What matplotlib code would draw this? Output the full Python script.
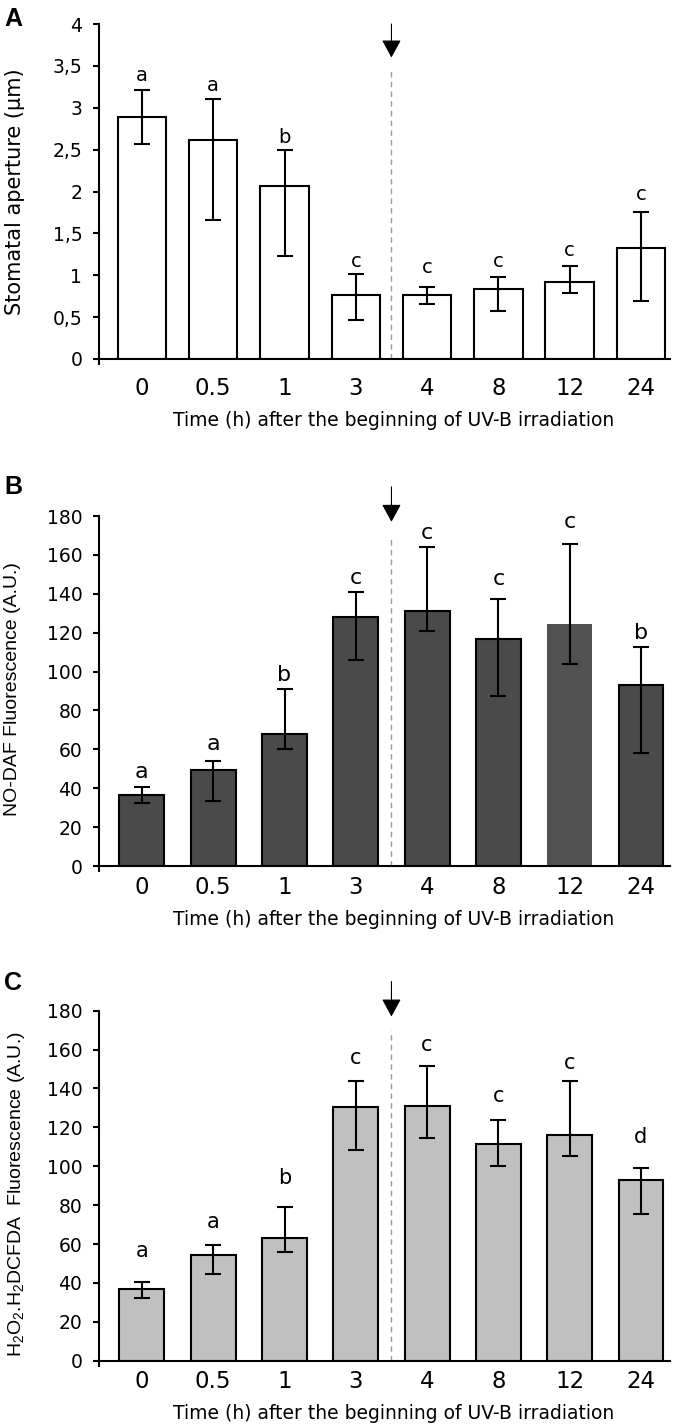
import matplotlib
matplotlib.use("Agg")
import matplotlib.pyplot as plt
import numpy as np

plt.rcParams['font.family'] = ['DejaVu Sans']
plt.rcParams['mathtext.default'] = 'regular'

# ---------------- data ----------------
times = ["0", "0.5", "1", "3", "4", "8", "12", "24"]

# Panel A: stomatal aperture (um)
vals_a = [2.89, 2.62, 2.07, 0.76, 0.76, 0.84, 0.92, 1.32]
hi_a = [3.21, 3.11, 2.49, 1.01, 0.86, 0.98, 1.11, 1.76]
lo_a = [2.57, 1.66, 1.23, 0.47, 0.66, 0.57, 0.79, 0.69]
letters_a = ["a", "a", "b", "c", "c", "c", "c", "c"]
lety_a = [3.39, 3.27, 2.65, 1.17, 1.09, 1.16, 1.29, 1.97]
yticks_a = [0, 0.5, 1, 1.5, 2, 2.5, 3, 3.5, 4]
yticklabels_a = ["0", "0,5", "1", "1,5", "2", "2,5", "3", "3,5", "4"]

# Panel B: NO-DAF fluorescence
vals_b = [36.5, 49.4, 67.9, 127.9, 131.0, 116.8, 124.5, 92.9]
hi_b = [40.4, 54.0, 90.9, 140.8, 164.3, 137.5, 165.5, 112.7]
lo_b = [32.2, 33.6, 60.2, 106.0, 120.9, 87.3, 104.1, 58.3]
letters_b = ["a", "a", "b", "c", "c", "c", "c", "b"]
lety_b = [48.5, 62.6, 98.3, 148.0, 171.1, 147.5, 177.1, 120.0]

# Panel C: H2O2 H2DCFDA fluorescence
vals_c = [36.7, 54.2, 63.0, 130.5, 131.2, 111.5, 116.3, 92.8]
hi_c = [40.6, 59.7, 79.2, 143.9, 151.7, 123.8, 143.9, 99.0]
lo_c = [32.4, 44.8, 55.9, 108.4, 114.4, 100.2, 105.3, 75.5]
letters_c = ["a", "a", "b", "c", "c", "c", "c", "d"]
lety_c = [56.4, 71.2, 93.8, 155.5, 162.4, 136.3, 153.0, 114.9]
yticks_f = [0, 20, 40, 60, 80, 100, 120, 140, 160, 180]

xlabel = "Time (h) after the beginning of UV-B irradiation"

# ---------------- figure ----------------
W, H = 677, 1426
fig = plt.figure(figsize=(W / 100, H / 100), dpi=100)

def frac_y(py):
    return 1 - py / H

left = 99 / W
width = 571 / W
ax_a = fig.add_axes([left, frac_y(359), width, 335 / H])
ax_b = fig.add_axes([left, frac_y(866), width, 350 / H])
ax_c = fig.add_axes([left, frac_y(1360.7), width, 350 / H])

x = np.arange(len(times))
XL = (-0.602, 7.407)


def panel(ax, vals, hi, lo, letters, lety, ymax, yticks, yticklabels,
          face, edge_list, barw, letsize, xpad, arrow_top, arrow_tip, dash_top):
    vals = np.array(vals)
    yerr = [vals - np.array(lo), np.array(hi) - vals]
    for i in range(len(vals)):
        ec = edge_list[i]
        ax.bar(x[i], vals[i], width=barw, color=face[i] if isinstance(face, list) else face,
               edgecolor=ec if ec else 'none', linewidth=1.5 if ec else 0, zorder=2)
    ax.errorbar(x, vals, yerr=yerr, fmt='none', ecolor='black', elinewidth=1.5,
                capsize=5.5, capthick=1.5, zorder=3)
    for xi, t, ty in zip(x, letters, lety):
        ax.text(xi, ty, t, ha='center', va='center', fontsize=letsize, zorder=4)
    ax.set_xlim(*XL)
    ax.set_ylim(0, ymax)
    ax.set_yticks(yticks)
    ax.set_yticklabels(yticklabels)
    ax.set_xticks(x)
    ax.set_xticklabels(times)
    ax.set_xticks([XL[0]], minor=True)
    for s in ['top', 'right']:
        ax.spines[s].set_visible(False)
    for s in ['left', 'bottom']:
        ax.spines[s].set_linewidth(1.5)
    ax.tick_params(axis='y', direction='out', length=4, width=1.5, pad=8, labelsize=13.5)
    ax.tick_params(axis='x', which='major', length=0, pad=xpad, labelsize=16.5)
    ax.tick_params(axis='x', which='minor', length=4, width=1.5, direction='out')
    # dashed separation line
    ax.plot([3.5, 3.5], [0, dash_top], color='#9a9a9a', lw=1.0,
            linestyle=(0, (4, 3)), zorder=1)
    # arrow
    ax.annotate("", xy=(3.5, arrow_tip), xytext=(3.5, arrow_top),
                arrowprops=dict(arrowstyle="-|>,head_length=1.1,head_width=0.6",
                                color='black', lw=0.8, shrinkA=0, shrinkB=0,
                                mutation_scale=10),
                annotation_clip=False, zorder=5)


panel(ax_a, vals_a, hi_a, lo_a, letters_a, lety_a, 4, yticks_a, yticklabels_a,
      'white', ['black'] * 8, 0.68, 14, 13, 4.0, 3.6, 3.48)
panel(ax_b, vals_b, hi_b, lo_b, letters_b, lety_b, 180, yticks_f,
      [str(v) for v in yticks_f],
      ['#4a4a4a'] * 6 + ['#515151'] + ['#4a4a4a'],
      ['black'] * 6 + [None] + ['black'], 0.63, 16, 7.5, 195, 177, 169.7)
panel(ax_c, vals_c, hi_c, lo_c, letters_c, lety_c, 180, yticks_f,
      [str(v) for v in yticks_f],
      '#c0c0c0', ['black'] * 8, 0.63, 15, 6.5, 195, 177, 170)

# axis labels
fig.text(15 / W, frac_y(191.5), "Stomatal aperture (µm)", rotation=90,
         ha='center', va='center', fontsize=15)
fig.text(13 / W, frac_y(689), "NO-DAF Fluorescence (A.U.)", rotation=90,
         ha='center', va='center', fontsize=14, family='Liberation Sans')
fig.text(17 / W, frac_y(1194), "H$_2$O$_2$.H$_2$DCFDA  Fluorescence (A.U.)",
         rotation=90, ha='center', va='center', fontsize=14, family='Liberation Sans')

for yc in [421, 919.5, 1413.5]:
    fig.text(393.5 / W, frac_y(yc), xlabel, ha='center', va='center', fontsize=13.5)

# panel letters
for lab, yc in [("A", 19), ("B", 487), ("C", 983)]:
    fig.text(4 / W, frac_y(yc), lab, ha='left', va='center', fontsize=18,
             fontweight='bold', family='Liberation Sans')

fig.savefig("out.png", dpi=100)
